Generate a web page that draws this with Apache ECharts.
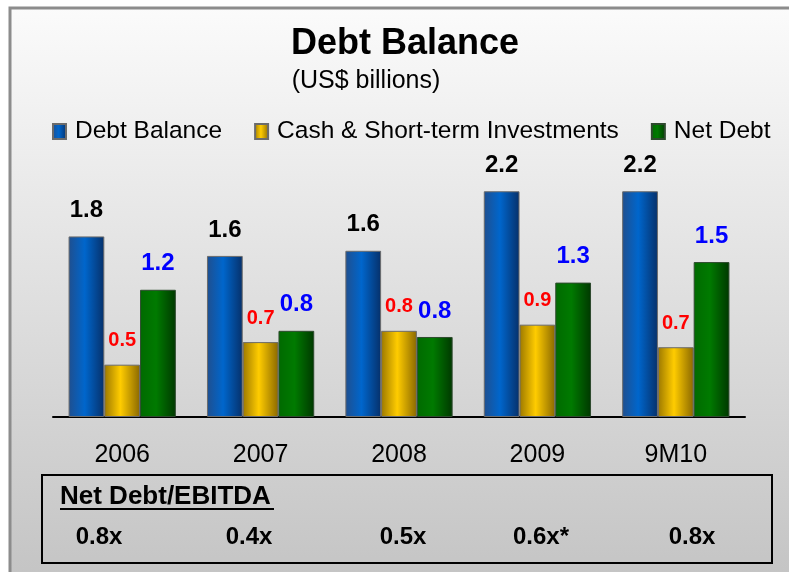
<!DOCTYPE html>
<html>
<head>
<meta charset="utf-8">
<title>Debt Balance</title>
<script src="https://cdn.jsdelivr.net/npm/echarts@6/dist/echarts.min.js"></script>
<style>
html, body { margin: 0; padding: 0; background: #fff; }
#debt_balance { width: 789px; height: 572px; }
</style>
</head>
<body>
<div id="debt_balance"></div>
<script>
const periods = ["2006", "2007", "2008", "2009", "9M10"];
const debt_balance = [1.76, 1.57, 1.62, 2.2, 2.2];
const cash_investments = [0.51, 0.73, 0.84, 0.9, 0.68];
const net_debt = [1.24, 0.84, 0.78, 1.31, 1.51];
const net_debt_ebitda = ["0.8x", "0.4x", "0.5x", "0.6x*", "0.8x"];
const ratio_x = [99, 249, 403, 541, 692];

const font = "'Liberation Sans', Arial, sans-serif";

// horizontal gradient so the bars look like cylinders
function cylinder(edge, mid, dark) {
  return new echarts.graphic.LinearGradient(0, 0, 1, 0, [
    { offset: 0, color: edge },
    { offset: 0.45, color: mid },
    { offset: 1, color: dark },
  ]);
}

function barLabel(color, size) {
  return {
    show: true,
    position: "top",
    distance: 14,
    color: color,
    fontFamily: font,
    fontWeight: "bold",
    fontSize: size,
    formatter: (p) => p.value.toFixed(1),
  };
}

const myChart = echarts.init(document.getElementById("debt_balance"));

const ratioTexts = net_debt_ebitda.map((t, i) => ({
  type: "text",
  x: ratio_x[i],
  y: 525,
  style: {
    text: t,
    align: "center",
    fill: "#000",
    font: "bold 24px " + font,
  },
}));

const option = {
  animation: false,
  title: [
    {
      text: "Debt Balance",
      left: 405,
      top: 26,
      textAlign: "center",
      padding: 0,
      textStyle: { fontFamily: font, fontSize: 36, fontWeight: "bold", color: "#000" },
    },
    {
      text: "(US$ billions)",
      left: 366,
      top: 69,
      textAlign: "center",
      padding: 0,
      textStyle: { fontFamily: font, fontSize: 25, fontWeight: "normal", color: "#000" },
    },
  ],
  legend: {
    left: 52,
    top: 119,
    padding: 0,
    icon: "rect",
    itemWidth: 13,
    itemHeight: 15,
    itemGap: 32,
    textStyle: { fontFamily: font, fontSize: 24.5, color: "#000", padding: [0, 0, 0, 4] },
    data: ["Debt Balance", "Cash & Short-term Investments", "Net Debt"],
  },
  graphic: [
    {
      type: "rect",
      z: -10,
      shape: { x: 10, y: 8, width: 800, height: 580 },
      style: {
        fill: new echarts.graphic.LinearGradient(0, 0, 0, 1, [
          { offset: 0, color: "#fbfbfb" },
          { offset: 1, color: "#c3c3c3" },
        ]),
        stroke: "#8c8c8c",
        lineWidth: 3,
      },
    },
    {
      type: "rect",
      shape: { x: 42, y: 475, width: 730, height: 88 },
      style: { fill: "transparent", stroke: "#000", lineWidth: 2 },
    },
    {
      type: "text",
      x: 60,
      y: 484,
      style: { text: "Net Debt/EBITDA", fill: "#000", font: "bold 26px " + font },
    },
    {
      type: "line",
      shape: { x1: 60, y1: 509, x2: 274, y2: 509 },
      style: { stroke: "#000", lineWidth: 2 },
    },
    ...ratioTexts,
  ],
  grid: {
    left: 53,
    right: 44,
    top: 160.5,
    bottom: 155,
  },
  xAxis: {
    type: "category",
    data: periods,
    axisLine: { lineStyle: { color: "#000", width: 2 } },
    axisTick: { show: false },
    axisLabel: { color: "#000", fontFamily: font, fontSize: 25, margin: 26 },
  },
  yAxis: {
    type: "value",
    min: 0,
    max: 2.5,
    show: false,
  },
  series: [
    {
      name: "Debt Balance",
      type: "bar",
      barGap: "0%",
      barCategoryGap: "22.5%",
      itemStyle: {
        color: cylinder("#1f4f8f", "#0066cc", "#06306a"),
        borderColor: "#6b6b6b",
        borderWidth: 1,
      },
      label: barLabel("#000", 24),
      data: debt_balance,
    },
    {
      name: "Cash & Short-term Investments",
      type: "bar",
      itemStyle: {
        color: cylinder("#9c7800", "#ffcc00", "#8a6800"),
        borderColor: "#6b6b6b",
        borderWidth: 1,
      },
      label: barLabel("#ff0000", 20),
      data: cash_investments,
    },
    {
      name: "Net Debt",
      type: "bar",
      itemStyle: {
        color: cylinder("#006a00", "#007a00", "#003800"),
        borderColor: "#2e4a2e",
        borderWidth: 1,
      },
      label: barLabel("#0000ff", 24),
      data: net_debt,
    },
  ],
};

myChart.setOption(option, true);
</script>
</body>
</html>
